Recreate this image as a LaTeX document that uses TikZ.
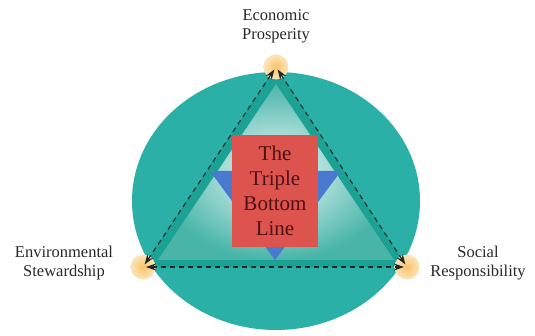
\documentclass[tikz,border=0pt]{standalone}
\usepackage{fontspec}
\setmainfont{Liberation Serif}
\usepackage{tikz}
\usetikzlibrary{arrows.meta,positioning,shapes.geometric,calc}
\definecolor{tealbg}{RGB}{42,176,166}
\definecolor{tealband}{RGB}{28,162,148}
\definecolor{tealpale}{RGB}{240,251,250}
\definecolor{glow}{RGB}{247,196,105}
\definecolor{boxred}{RGB}{221,83,78}
\definecolor{boxtxt}{RGB}{78,18,22}
\definecolor{tri}{RGB}{74,122,208}
\definecolor{lbltxt}{RGB}{40,40,40}
\tikzset{
  pillar/.style={font=\fontsize{16.5}{19}\selectfont, text=lbltxt, align=center, inner sep=0pt},
  hub/.style={circle, minimum size=25pt, inner sep=0pt, inner color=glow, outer color=glow!45},
  core/.style={rectangle, fill=boxred, minimum width=86pt, minimum height=112pt,
               align=center, font=\fontsize{21}{25}\selectfont, text=boxtxt},
  dar/.style={{Stealth[length=10pt,width=7pt]}-{Stealth[length=10pt,width=7pt]},
              line width=1.1pt, draw=black!85, dash pattern=on 5pt off 4pt, shorten <=3pt, shorten >=3pt},
}

\begin{document}
\begin{tikzpicture}[x=1pt,y=-1pt]
\useasboundingbox (0,0) rectangle (535,336);
\fill[tealbg] (276,201) ellipse [x radius=144, y radius=129];
\coordinate (top) at (276,67);
\coordinate (lft) at (143,267);
\coordinate (rgt) at (407,267);
\fill[tealband] (top) -- (lft) -- (rgt) -- cycle;
\shade[inner color=tealpale, outer color=tealband!80] (276,84) -- (158,260) -- (394,260) -- cycle;
\fill[tri] (210,171) -- (341,171) -- (275,260) -- cycle;
\node[core] (tbl) at (275,191) {The\\Triple\\Bottom\\Line};
\node[hub] (econ) at (top) {};
\node[hub] (env) at (lft) {};
\node[hub] (soc) at (rgt) {};
\draw[dar] (lft) -- (top);
\draw[dar] (rgt) -- (top);
\draw[dar] (lft) -- (rgt);
\node[pillar] (econl) at (276,26) {Economic\\Prosperity};
\node[pillar] (envl) at (64,263) {Environmental\\Stewardship};
\node[pillar] (socl) at (478,263) {Social\\Responsibility};
\end{tikzpicture}
\end{document}
